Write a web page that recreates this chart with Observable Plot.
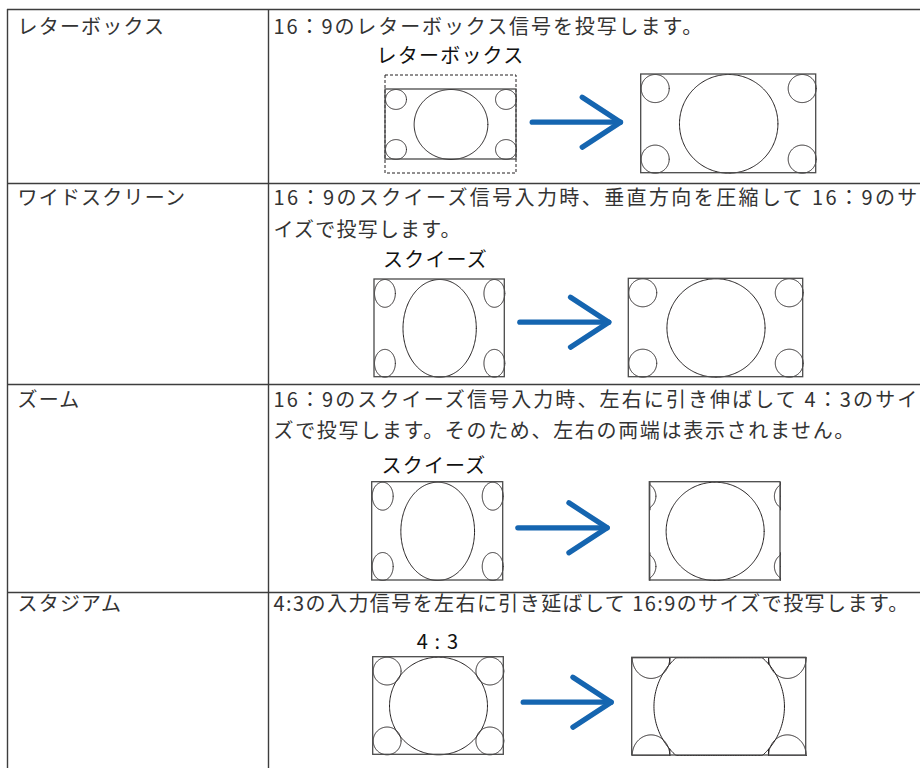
<!DOCTYPE html>
<html><head><meta charset="utf-8">
<script src="https://cdn.jsdelivr.net/npm/d3@7"></script>
<script src="https://cdn.jsdelivr.net/npm/@observablehq/plot@0.6"></script>
<style>
html,body{margin:0;padding:0;background:#fff;}
</style>
</head><body><div id="chart"></div>
<script>
// ---------------- data ----------------
const modes = ["レターボックス", "ワイドスクリーン", "ズーム", "スタジアム"];
const descriptions = [
  ["16：9のレターボックス信号を投写します。"],
  ["16：9のスクイーズ信号入力時、垂直方向を圧縮して 16：9のサ", "イズで投写します。"],
  ["16：9のスクイーズ信号入力時、左右に引き伸ばして 4：3のサイ", "ズで投写します。そのため、左右の両端は表示されません。"],
  ["4:3の入力信号を左右に引き延ばして 16:9のサイズで投写します。"]
];
const inputLabels = ["レターボックス", "スクイーズ", "スクイーズ", "4 : 3"];
const sourceAspect = ["16:9", "16:9", "16:9", "4:3"];   // aspect of the picture in the signal
const inputFrame   = ["4:3", "4:3", "4:3", "4:3"];      // aspect of the input frame
const outputFrame  = ["16:9", "16:9", "4:3", "16:9"];   // aspect of the projected frame
const conversion   = ["letterbox", "squeeze", "squeeze-zoom", "stadium"];

// ---------------- layout ----------------
const W = 920, H = 768;
const tableLeft = 7, colX = 268, tableTop = 9;
const rowTops = [9, 183, 384, 592];
const labelX = 17, descX = 273;
const lineY = [[27], [198, 230], [400, 431], [604]];
const lineLength = [[430], [645, null], [645, 582], [636]]; // set widths of the typeset lines
const titleXY = [[450, 56.5], [435, 260.5], [433.5, 466], [437.5, 642.5]];
const inBox = [[385, 75, 516, 173], [374, 279, 504.3, 376.7], [371.7, 481.7, 502.7, 580], [372.7, 656.7, 503.3, 754.3]];
const letterboxInner = [385, 89, 516, 159];
const outBox = [[640.7, 74, 815.7, 172.7], [628.3, 278.3, 802.7, 376.7], [649.3, 481.7, 780, 580], [631.7, 657.3, 805.7, 755]];
const arrowXY = [[531.7, 620, 121.7], [519.3, 608.3, 321.7], [517.3, 606.7, 527.3], [522.7, 610.7, 701.7]];
const headBack = 38.3, headSpread = 25;

const ink = "#231f20", lineCol = "#3d3d3d", blue = "#1565b0";
const fontFamily = "'Noto Sans CJK JP', 'Noto Sans', sans-serif";

// ---------------- geometry helpers ----------------
const ratio = (a) => { const [p, q] = a.split(":").map(Number); return p / q; };
function standardPicture(aspect) {
  const w = 9 * ratio(aspect), r = 1.28;
  return {w, h: 9, ellipses: [
    {cx: w / 2, cy: 4.5, rx: 4.5, ry: 4.5},
    {cx: r, cy: r, rx: r, ry: r}, {cx: w - r, cy: r, rx: r, ry: r},
    {cx: r, cy: 9 - r, rx: r, ry: r}, {cx: w - r, cy: 9 - r, rx: r, ry: r}
  ], segments: []};
}
function stadiumPicture() {
  const w = 16, R = 6, hr = 1.73, hy = 1.9, vx = 2 * hr;
  const dy = 4.5 - Math.sqrt(R * R - (w / 2 - vx) ** 2);
  return {w, h: 9, ellipses: [
    {cx: w / 2, cy: 4.5, rx: R, ry: R},
    {cx: hr, cy: 0, rx: hr, ry: hy}, {cx: w - hr, cy: 0, rx: hr, ry: hy},
    {cx: hr, cy: 9, rx: hr, ry: hy}, {cx: w - hr, cy: 9, rx: hr, ry: hy}
  ], segments: [
    [[vx, 0], [vx, dy]], [[w - vx, 0], [w - vx, dy]],
    [[vx, 9 - dy], [vx, 9]], [[w - vx, 9 - dy], [w - vx, 9]]
  ]};
}
let shapeId = 0;
function place(pic, win, box) {
  const [u0, u1] = win, [x0, y0, x1, y1] = box;
  const fx = (u) => Math.min(x1, Math.max(x0, x0 + (u - u0) / (u1 - u0) * (x1 - x0)));
  const fy = (v) => Math.min(y1, Math.max(y0, y0 + v / pic.h * (y1 - y0)));
  const out = [];
  for (const e of pic.ellipses) {
    const id = shapeId++;
    const n = 240;
    for (let i = 0; i <= n; i++) {
      const t = 2 * Math.PI * i / n;
      out.push({x: fx(e.cx + e.rx * Math.cos(t)), y: fy(e.cy + e.ry * Math.sin(t)), z: id});
    }
  }
  for (const s of pic.segments) {
    const id = shapeId++;
    for (const [u, v] of s) out.push({x: fx(u), y: fy(v), z: id});
  }
  return out;
}

// ---------------- build mark data ----------------
const pictureLines = [], frames = [], dashedFrames = [], arrowLines = [];
modes.forEach((m, i) => {
  const src = standardPicture(sourceAspect[i]);
  // input
  if (conversion[i] === "letterbox") {
    dashedFrames.push({x1: inBox[i][0], y1: inBox[i][1], x2: inBox[i][2], y2: inBox[i][3]});
    frames.push({x1: letterboxInner[0], y1: letterboxInner[1], x2: letterboxInner[2], y2: letterboxInner[3]});
    pictureLines.push(...place(src, [0, src.w], letterboxInner));
  } else {
    frames.push({x1: inBox[i][0], y1: inBox[i][1], x2: inBox[i][2], y2: inBox[i][3]});
    pictureLines.push(...place(src, [0, src.w], inBox[i]));
  }
  // output
  frames.push({x1: outBox[i][0], y1: outBox[i][1], x2: outBox[i][2], y2: outBox[i][3]});
  if (conversion[i] === "stadium") {
    const st = stadiumPicture();
    pictureLines.push(...place(st, [0, st.w], outBox[i]));
  } else {
    const visW = 9 * ratio(outputFrame[i]);
    const u0 = (src.w - visW) / 2;
    pictureLines.push(...place(src, [u0, u0 + visW], outBox[i]));
  }
  // arrow
  const [ax1, ax2, ay] = arrowXY[i];
  arrowLines.push({x: ax1, y: ay, z: "s" + i}, {x: ax2, y: ay, z: "s" + i});
  arrowLines.push({x: ax2 - headBack, y: ay - headSpread, z: "h" + i}, {x: ax2, y: ay, z: "h" + i}, {x: ax2 - headBack, y: ay + headSpread, z: "h" + i});
});

const labelText = modes.map((m, i) => ({x: labelX, y: lineY[i][0], text: m}));
const descText = descriptions.flatMap((lines, i) => lines.map((t, j) => ({x: descX, y: lineY[i][j], text: t})));
const titleText = inputLabels.map((t, i) => ({x: titleXY[i][0], y: titleXY[i][1], text: t}));
const widthOf = new Map();
descriptions.forEach((lines, i) => lines.forEach((t, j) => { if (lineLength[i][j]) widthOf.set(t, lineLength[i][j]); }));

const hLines = [tableTop, ...rowTops.slice(1)].map((y) => ({x1: tableLeft, x2: W, y}));
const vLines = [tableLeft, colX].map((x) => ({x, y1: tableTop, y2: H}));

const plot = Plot.plot({
  width: W, height: H, margin: 0,
  x: {domain: [0, W], range: [0, W], axis: null},
  y: {domain: [0, H], range: [0, H], axis: null},
  style: {background: "#fff", letterSpacing: "1.2px"},
  marks: [
    Plot.ruleY(hLines, {x1: "x1", x2: "x2", y: "y", stroke: lineCol, strokeWidth: 1.4}),
    Plot.ruleX(vLines, {x: "x", y1: "y1", y2: "y2", stroke: lineCol, strokeWidth: 1.4}),
    Plot.line(pictureLines, {x: "x", y: "y", z: "z", stroke: ink, strokeWidth: 1, curve: "linear"}),
    Plot.rect(dashedFrames, {x1: "x1", y1: "y1", x2: "x2", y2: "y2", fill: "none", stroke: ink, strokeWidth: 1, strokeDasharray: "3,2"}),
    Plot.rect(frames, {x1: "x1", y1: "y1", x2: "x2", y2: "y2", fill: "none", stroke: "#4a4a4a", strokeWidth: 1.3}),
    Plot.line(arrowLines, {x: "x", y: "y", z: "z", stroke: blue, strokeWidth: 5.2, strokeLinecap: "round", strokeLinejoin: "round"}),
    Plot.text(labelText, {x: "x", y: "y", text: "text", textAnchor: "start", fontSize: 20, fontFamily, fill: "#333"}),
    Plot.text(descText, {x: "x", y: "y", text: "text", textAnchor: "start", fontSize: 20, fontFamily, fill: "#333"}),
    Plot.text(titleText, {x: "x", y: "y", text: "text", textAnchor: "middle", fontSize: 20, fontFamily, fill: "#111"})
  ]
});
d3.select(plot).selectAll("text").each(function () {
  const w = widthOf.get(this.textContent);
  if (w) {
    this.setAttribute("textLength", w);
    this.setAttribute("lengthAdjust", "spacing");
  }
});
document.getElementById("chart").appendChild(plot);
</script>
</body></html>
